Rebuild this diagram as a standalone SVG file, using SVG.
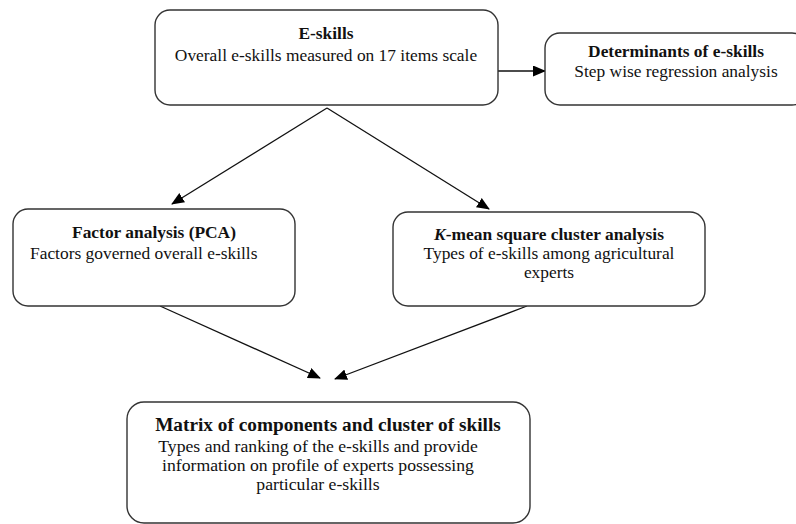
<svg xmlns="http://www.w3.org/2000/svg" width="796" height="524" viewBox="0 0 796 524">
<defs>
<marker id="ah" markerWidth="13" markerHeight="11" refX="12" refY="5.5" orient="auto" markerUnits="userSpaceOnUse">
<path d="M0,0 L13,5.5 L0,11 Z" fill="#000"/>
</marker>
<style>
.box{fill:#fff;stroke:#333;stroke-width:1.4}
.t{font-family:"Liberation Serif","Times New Roman",serif;fill:#111;font-size:17.4px}
.b{font-weight:bold}
.c{text-anchor:middle}
.ln{stroke:#111;stroke-width:1.3;fill:none}
</style>
</defs>
<rect width="796" height="524" fill="#fff"/>
<g id="connectors">
<line class="ln" x1="498" y1="71" x2="545" y2="71" marker-end="url(#ah)"/>
<line class="ln" x1="327" y1="108" x2="172" y2="204" marker-end="url(#ah)"/>
<line class="ln" x1="327" y1="108" x2="489" y2="209" marker-end="url(#ah)"/>
<line class="ln" x1="160" y1="306" x2="320" y2="378" marker-end="url(#ah)"/>
<line class="ln" x1="527" y1="306" x2="335" y2="379" marker-end="url(#ah)"/>
</g>
<g id="eskills">
<rect class="box" x="155" y="10" width="343" height="95" rx="15"/>
<text class="t b c" x="326" y="39">E-skills</text>
<text class="t c" x="326" y="61">Overall e-skills measured on 17 items scale</text>
</g>
<g id="determinants">
<rect class="box" x="545" y="33" width="262" height="72" rx="15"/>
<text class="t b c" x="676" y="57">Determinants of e-skills</text>
<text class="t c" x="676" y="77">Step wise regression analysis</text>
</g>
<g id="factor">
<rect class="box" x="13" y="209" width="282" height="97" rx="15"/>
<text class="t b c" x="154" y="238">Factor analysis (PCA)</text>
<text class="t" x="30" y="259">Factors governed overall e-skills</text>
</g>
<g id="kmean">
<rect class="box" x="393" y="212" width="312" height="94" rx="15"/>
<text class="t b c" x="549" y="240"><tspan font-style="italic">K</tspan>-mean square cluster analysis</text>
<text class="t c" x="549" y="259">Types of e-skills among agricultural</text>
<text class="t c" x="549" y="278">experts</text>
</g>
<g id="matrix">
<rect class="box" x="127" y="402" width="403" height="121" rx="17"/>
<text class="t b c" x="328" y="431" style="font-size:19.3px">Matrix of components and cluster of skills</text>
<text class="t c" x="318" y="452" style="font-size:17.7px">Types and ranking of the e-skills and provide</text>
<text class="t c" x="318" y="471" style="font-size:17.7px">information on profile of experts possessing</text>
<text class="t c" x="318" y="490" style="font-size:17.7px">particular e-skills</text>
</g>
</svg>
